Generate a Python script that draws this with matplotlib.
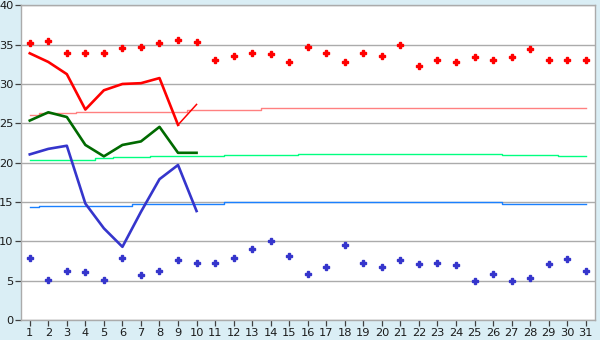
import matplotlib

matplotlib.use("Agg")
import matplotlib.pyplot as plt
import numpy as np

days = list(range(1, 32))

# daily records (max / min), all month
record_max = [35.15, 35.5, 33.9, 33.9, 33.9, 34.6, 34.75, 35.15, 35.65, 35.3,
              33.1, 33.5, 34.0, 33.75, 32.85, 34.75, 33.9, 32.85, 34.0, 33.5,
              35.0, 32.25, 33.0, 32.85, 33.4, 33.0, 33.4, 34.4, 33.0, 33.0, 33.1]
record_min = [7.85, 5.05, 6.2, 6.05, 5.05, 7.85, 5.7, 6.2, 7.6, 7.2,
              7.2, 7.85, 9.0, 10.0, 8.1, 5.8, 6.8, 9.5, 7.2, 6.8,
              7.6, 7.1, 7.2, 6.95, 4.9, 5.8, 4.9, 5.3, 7.1, 7.7, 6.2]

# observed values, first ten days
obs_max = [33.9, 32.8, 31.25, 26.75, 29.2, 30.0, 30.1, 30.75, 24.8, 27.4]
obs_mean = [25.35, 26.4, 25.8, 22.25, 20.8, 22.25, 22.7, 24.55, 21.25, 21.25]
obs_min = [21.05, 21.75, 22.15, 14.8, 11.65, 9.3, 13.75, 17.9, 19.7, 13.85]

# normals
normal_max = [26.1, 26.25, 26.25, 26.4, 26.4, 26.4, 26.5, 26.5, 26.5, 26.65,
              26.75, 26.75, 26.75] + [26.9] * 18
normal_mean = [20.3, 20.3, 20.4, 20.4, 20.55, 20.7, 20.7, 20.8, 20.8, 20.8,
               20.8] + [20.95] * 4 + [21.05] * 11 + [20.95] * 3 + [20.8] * 2
normal_min = [14.3, 14.45, 14.45, 14.55, 14.55, 14.55, 14.7, 14.7, 14.8, 14.8,
              14.8] + [14.95] * 4 + [15.05] * 7 + [14.95] * 4 + [14.8] * 3 + [14.7] * 2

BG = "#daeef5"
GRID = "#ababab"


def main() -> None:
    fig = plt.figure(figsize=(6.0, 3.4), dpi=100, facecolor=BG)
    ax = fig.add_axes([20.5 / 600, 20 / 340, 574.5 / 600, 314.7 / 340])
    ax.set_facecolor("white")

    x_obs = np.array(days[:len(obs_max)])

    ax.plot(days, normal_max, color="#ff8080", lw=1.0, drawstyle="steps-mid", zorder=2)
    ax.plot(days, normal_mean, color="#00ff80", lw=1.0, drawstyle="steps-mid", zorder=2)
    ax.plot(days, normal_min, color="#1a80ff", lw=1.0, drawstyle="steps-mid", zorder=2)

    ax.plot(x_obs[:9], obs_max[:9], color="#ff0000", lw=1.9, zorder=3)
    ax.plot(x_obs[8:], obs_max[8:], color="#ff0000", lw=1.1, zorder=3)
    ax.plot(x_obs, obs_mean, color="#006a00", lw=1.9, zorder=3)
    ax.plot(x_obs, obs_min, color="#3535cc", lw=1.9, zorder=3)

    ax.plot(days, record_max, ls="none", marker="P", ms=4.2, color="#ff0000",
            mec="#ff0000", zorder=4)
    ax.plot(days, record_min, ls="none", marker="P", ms=4.2, color="#3535cc",
            mec="#3535cc", zorder=4)

    ax.set_xlim(0.5, 31.5)
    ax.set_ylim(0, 40)
    ax.set_xticks(days)
    ax.set_yticks(range(0, 41, 5))
    ax.grid(axis="y", color=GRID, lw=1.0)
    ax.set_axisbelow(True)
    for side in ("left", "right", "top", "bottom"):
        ax.spines[side].set_color(GRID)
        ax.spines[side].set_linewidth(1.0)
    ax.tick_params(axis="both", direction="out", length=4, width=0.9,
                   color="#404040", labelsize=8.2, labelcolor="#1a1a1a", pad=2)
    ax.tick_params(axis="y", pad=1)

    fig.savefig("out.png", dpi=100, facecolor=BG)
    plt.close(fig)


if __name__ == "__main__":
    main()
